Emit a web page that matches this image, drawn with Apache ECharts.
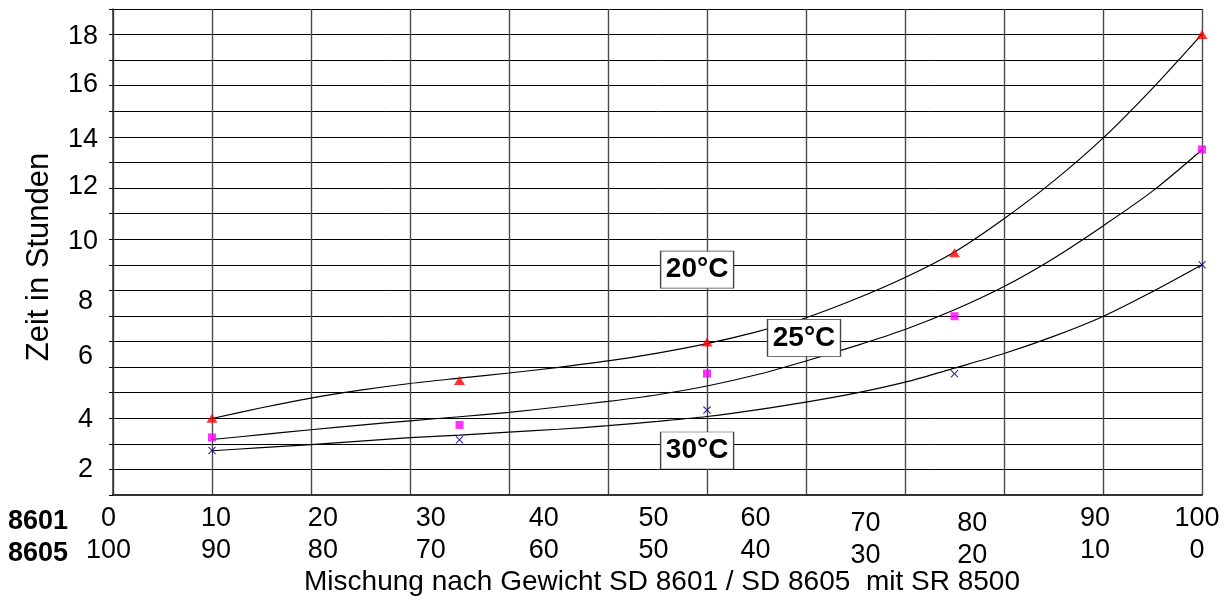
<!DOCTYPE html>
<html>
<head>
<meta charset="utf-8">
<script src="https://cdn.jsdelivr.net/npm/echarts@6/dist/echarts.min.js"></script>
<style>
html,body{margin:0;padding:0;background:#fff;}
#c{width:1230px;height:601px;}
</style>
</head>
<body>
<div id="c"></div>
<script>
// ---- data (x in grid units of the mixture axis, y in hours-scale units) ----
const measX = [1, 3.5, 6, 8.5, 11];
const meas20 = [3.0, 4.48, 5.98, 9.47, 18.0];
const meas25 = [2.25, 2.74, 4.75, 6.99, 13.51];
const meas30 = [1.74, 2.16, 3.32, 4.74, 9.0];

const curveX = [1, 1.5, 2, 2.5, 3, 3.5, 4, 4.5, 5, 5.5, 6, 6.5, 7, 7.5, 8, 8.5, 9, 9.5, 10, 10.5, 11];
const fit20 = [2.99, 3.41, 3.79, 4.1, 4.36, 4.57, 4.77, 4.99, 5.24, 5.55, 5.92, 6.38, 6.93, 7.66, 8.5, 9.5, 10.8, 12.27, 13.95, 15.9, 18.02];
const fit25 = [2.17, 2.36, 2.55, 2.73, 2.9, 3.06, 3.23, 3.44, 3.66, 3.92, 4.26, 4.7, 5.24, 5.83, 6.47, 7.24, 8.15, 9.25, 10.52, 11.88, 13.5];
const fit30 = [1.73, 1.85, 1.97, 2.11, 2.24, 2.34, 2.46, 2.57, 2.71, 2.88, 3.07, 3.33, 3.63, 3.98, 4.41, 4.96, 5.53, 6.2, 6.98, 7.95, 9.0];

const xLabels8601 = ['0', '10', '20', '30', '40', '50', '60', '70', '80', '90', '100'];
const xLabels8605 = ['100', '90', '80', '70', '60', '50', '40', '30', '20', '10', '0'];
const xLabelPos = [0, 1.04, 2.12, 3.21, 4.35, 5.46, 6.49, 7.6, 8.68, 9.92, 10.95];

const yLabels = ['2', '4', '6', '8', '10', '12', '14', '16', '18'];
const yLabelPos = [0.99, 2.95, 5.41, 7.55, 9.9, 12.04, 13.9, 16.04, 17.92];

const tempNames = ['20°C', '25°C', '30°C'];
const tempLabelX = [5.9, 6.98, 5.9];
const tempLabelY = [8.81, 6.14, 1.74];

const rowNames = ['8601', '8605'];
const xTitle = 'Mischung nach Gewicht SD 8601 / SD 8605  mit SR 8500';
const yTitle = 'Zeit in Stunden';

// ---- chart ----
const FONT = '"Liberation Sans", Arial, Helvetica, sans-serif';
const FS = 27;
function pair(xs, ys) { return xs.map((v, i) => [v, ys[i]]); }
function findIdx(arr, v, i) {
  let k = arr.findIndex(p => Math.abs(p - v) < 1e-6);
  return k < 0 ? i : k;
}
function xFmt(labels) {
  return function (v, i) {
    const k = findIdx(xLabelPos, v, i);
    const t = labels[k];
    if (k === 0) return '{l|' + t + '}';
    if (k === 7 || k === 8) return '{lo|' + t + '}';
    return '{n|' + t + '}';
  };
}
const richX = {
  n: { fontSize: FS, fontFamily: FONT, color: '#000' },
  lo: { fontSize: FS, fontFamily: FONT, color: '#000', padding: [5, 0, 0, 0] },
  l: { fontSize: FS, fontFamily: FONT, color: '#000', padding: [0, 9, 0, 0] }
};

const chart = echarts.init(document.getElementById('c'), null, { renderer: 'canvas' });
const lineStyle = { color: '#000', width: 1.2 };
const xShape = 'path://M0,1L1,0L5,4L9,0L10,1L6,5L10,9L9,10L5,6L1,10L0,9L4,5Z';

chart.setOption({
  animation: false,
  backgroundColor: '#fff',
  grid: { left: 113, top: 9, width: 1089, height: 488.5 },
  xAxis: [
    {
      type: 'value', min: 0, max: 11, interval: 1,
      name: xTitle, nameLocation: 'middle', nameGap: 73,
      nameTextStyle: { fontSize: 28, fontFamily: FONT, color: '#000', padding: [0, 0, 0, 9] },
      axisLine: { show: true, lineStyle: { color: '#333', width: 2 } },
      axisTick: { show: false },
      splitLine: { show: true, lineStyle: { color: '#4a4a4a', width: 1.4 } },
      axisLabel: {
        show: true, customValues: xLabelPos, margin: 10,
        fontSize: FS, fontFamily: FONT, color: '#000',
        formatter: xFmt(xLabels8601), rich: richX
      }
    },
    {
      type: 'value', min: 0, max: 11, interval: 1, position: 'bottom', offset: 32,
      axisLine: { show: false }, axisTick: { show: false }, splitLine: { show: false },
      axisLabel: {
        show: true, customValues: xLabelPos, margin: 10,
        fontSize: FS, fontFamily: FONT, color: '#000',
        formatter: xFmt(xLabels8605), rich: richX
      }
    }
  ],
  yAxis: {
    type: 'value', min: 0, max: 19, interval: 1,
    name: yTitle, nameLocation: 'middle', nameGap: 58,
    nameTextStyle: { fontSize: 31, fontFamily: FONT, color: '#000', padding: [0, 10, 0, 0] },
    axisLine: { show: true, lineStyle: { color: '#333', width: 1.5 } },
    axisTick: { show: true, length: 4, lineStyle: { color: '#000' } },
    splitLine: { show: true, lineStyle: { color: '#000', width: 1 } },
    axisLabel: {
      show: true, customValues: yLabelPos, margin: 15,
      fontSize: FS, fontFamily: FONT, color: '#000',
      formatter: function (v, i) {
        const k = findIdx(yLabelPos, v, i);
        const t = yLabels[k];
        return t.length === 1 ? '{s|' + t + '}' : '{d|' + t + '}';
      },
      rich: {
        s: { fontSize: FS, fontFamily: FONT, color: '#000', padding: [0, 5, 0, 0] },
        d: { fontSize: FS, fontFamily: FONT, color: '#000' }
      }
    }
  },
  graphic: rowNames.map((t, i) => ({
    type: 'text', left: 8, top: 508 + i * 32,
    style: { text: t, fontSize: FS, fontWeight: 'bold', fontFamily: FONT, fill: '#000' }
  })),
  series: [
    { type: 'line', name: 'fit20', data: pair(curveX, fit20), smooth: 0.3, showSymbol: false, lineStyle: lineStyle, z: 3, silent: true },
    { type: 'line', name: 'fit25', data: pair(curveX, fit25), smooth: 0.3, showSymbol: false, lineStyle: lineStyle, z: 3, silent: true },
    { type: 'line', name: 'fit30', data: pair(curveX, fit30), smooth: 0.3, showSymbol: false, lineStyle: lineStyle, z: 3, silent: true },
    { type: 'scatter', name: '20°C', data: pair(measX, meas20), symbol: 'triangle', symbolSize: [11, 9], itemStyle: { color: '#ff0000' }, z: 4 },
    { type: 'scatter', name: '25°C', data: pair(measX, meas25), symbol: 'rect', symbolSize: 8, itemStyle: { color: '#ff00ff' }, z: 4 },
    { type: 'scatter', name: '30°C', data: pair(measX, meas30), symbol: xShape, symbolSize: 8, itemStyle: { color: '#000080' }, z: 4 },
    {
      type: 'scatter', name: 'labels', data: [], z: 10,
      markPoint: {
        symbol: 'rect', symbolSize: [73, 37],
        itemStyle: { color: '#fff', borderColor: '#444', borderWidth: 1 },
        label: { show: true, position: 'inside', formatter: '{b}', fontSize: 28, fontWeight: 'bold', fontFamily: FONT, color: '#000' },
        data: tempNames.map((n, i) => ({ name: n, coord: [tempLabelX[i], tempLabelY[i]] }))
      }
    }
  ]
});
</script>
</body>
</html>
